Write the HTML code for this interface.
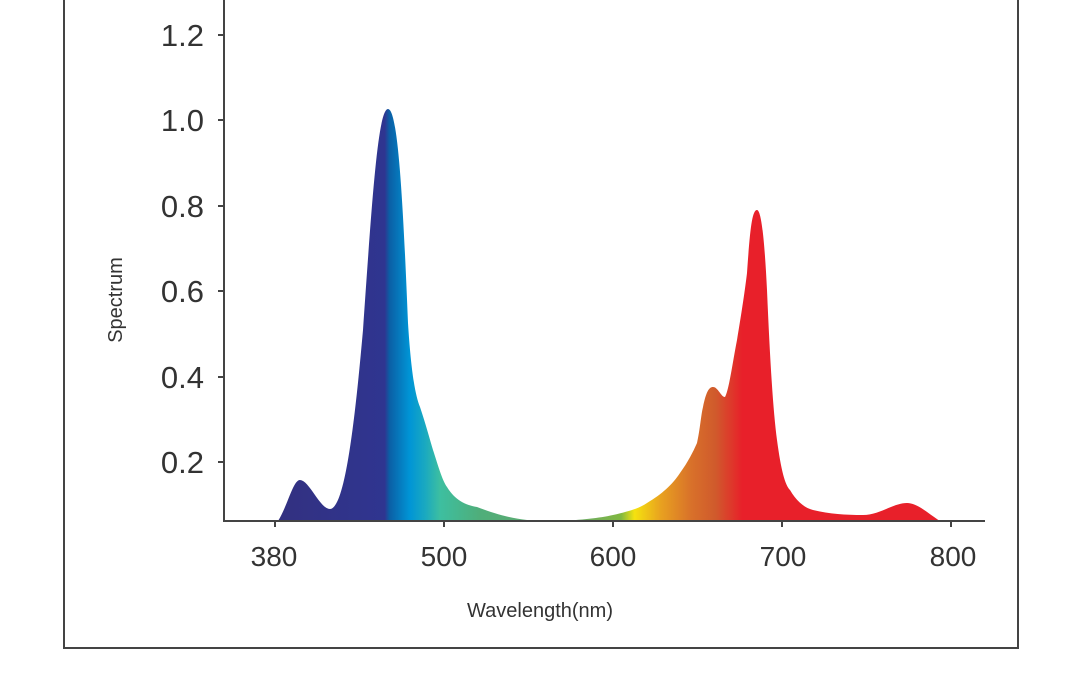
<!DOCTYPE html>
<html><head><meta charset="utf-8"><style>
html,body{margin:0;padding:0;background:#fff;}
svg{display:block;}
text{font-family:"Liberation Sans",Arial,sans-serif;fill:#333;}
</style></head><body>
<svg width="1080" height="675" viewBox="0 0 1080 675" xmlns="http://www.w3.org/2000/svg">
<defs>
<linearGradient id="g" gradientUnits="userSpaceOnUse" x1="270" y1="0" x2="945" y2="0">
<stop offset="0" stop-color="#33307f"/>
<stop offset="0.17" stop-color="#2f3590"/>
<stop offset="0.177" stop-color="#0b5fa5"/>
<stop offset="0.207" stop-color="#0095d6"/>
<stop offset="0.23" stop-color="#1aa9c0"/>
<stop offset="0.252" stop-color="#3dbfa0"/>
<stop offset="0.31" stop-color="#4fae7a"/>
<stop offset="0.45" stop-color="#6aa86a"/>
<stop offset="0.52" stop-color="#80b840"/>
<stop offset="0.54" stop-color="#f5e20f"/>
<stop offset="0.58" stop-color="#e8a020"/>
<stop offset="0.625" stop-color="#d8702a"/>
<stop offset="0.66" stop-color="#d05a2c"/>
<stop offset="0.7" stop-color="#e8202a"/>
<stop offset="1" stop-color="#e8202a"/>
</linearGradient>
</defs>
<path d="M64 0 V648 H1018 V0" fill="none" stroke="#444" stroke-width="2"/>
<path d="M278 521 C288 505 293 480 300 480 C309 480 320 509 330 509 C345 509 355 420 363 330 C372 200 378 109 388 109 C398 109 403 200 408 323 C411 370 415 395 420 407 C426 425 430 440 433 450 C438 465 442 480 447 487 C455 500 465 505 477 507 C495 514 510 518 527 520 L560 521 C580 520 600 518 613 515 C630 511 640 508 647 503 C662 494 672 485 680 473 C688 462 693 452 697 443 C700 430 701 415 703 407 C706 392 709 387 713 387 C718 387 721 397 725 397 C729 390 733 360 737 340 C742 310 745 290 747 273 C750 230 752 210 757 210 C762 210 765 250 767 290 C770 360 773 410 777 440 C781 470 785 485 790 490 C797 502 805 508 813 510 C830 514 845 515 863 515 C880 515 893 503 907 503 C918 503 930 515 940 521 Z" fill="url(#g)"/>
<path d="M224 0 V521 H985" fill="none" stroke="#444" stroke-width="2"/>
<g stroke="#444" stroke-width="2">
<line x1="218" y1="35" x2="224" y2="35"/><line x1="218" y1="120" x2="224" y2="120"/>
<line x1="218" y1="206" x2="224" y2="206"/><line x1="218" y1="291" x2="224" y2="291"/>
<line x1="218" y1="377" x2="224" y2="377"/><line x1="218" y1="462" x2="224" y2="462"/>
<line x1="275" y1="521" x2="275" y2="527"/><line x1="444" y1="521" x2="444" y2="527"/>
<line x1="613" y1="521" x2="613" y2="527"/><line x1="782" y1="521" x2="782" y2="527"/>
<line x1="951" y1="521" x2="951" y2="527"/>
</g>
<g font-size="31" text-anchor="end">
<text x="204" y="46">1.2</text><text x="204" y="131">1.0</text>
<text x="204" y="217">0.8</text><text x="204" y="302">0.6</text>
<text x="204" y="388">0.4</text><text x="204" y="473">0.2</text>
</g>
<g font-size="28" text-anchor="middle">
<text x="274" y="566">380</text><text x="444" y="566">500</text>
<text x="613" y="566">600</text><text x="783" y="566">700</text>
<text x="953" y="566">800</text>
</g>
<text x="540" y="617" font-size="20" text-anchor="middle">Wavelength(nm)</text>
<text x="0" y="0" font-size="20" text-anchor="middle" transform="translate(122 300) rotate(-90)">Spectrum</text>
</svg>
</body></html>
